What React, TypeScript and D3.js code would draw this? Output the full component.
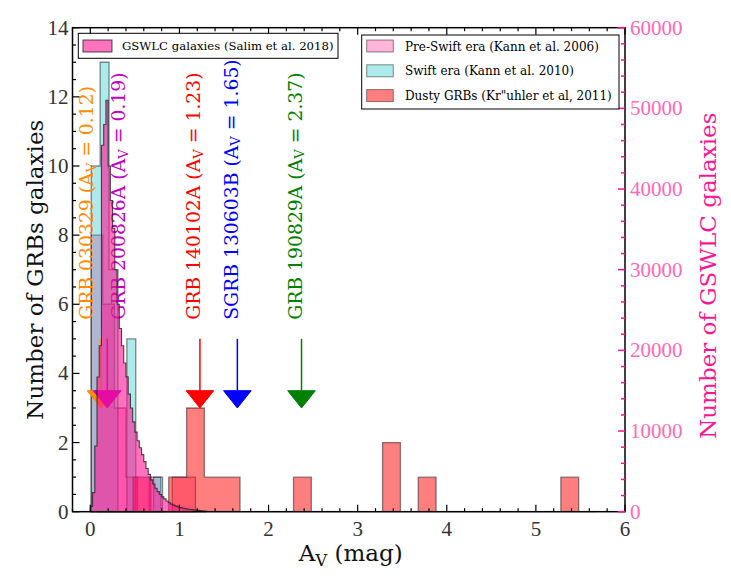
import * as d3 from "d3";

// ---- data ----
const xTickValues = [0, 1, 2, 3, 4, 5, 6];
const leftTickValues = [0, 2, 4, 6, 8, 10, 12, 14];
const rightTickValues = [0, 10000, 20000, 30000, 40000, 50000, 60000];

// Pre-Swift era (Kann et al. 2006)
const preSwiftEdges = [0.01, 0.14, 0.27, 0.4, 0.53, 0.66, 0.79, 0.92, 1.05, 1.18];
const preSwiftCounts = [8, 6, 3, 1, 0, 1, 0, 1, 1];

// Swift era (Kann et al. 2010)
const swiftEdges = [0.01, 0.11, 0.21, 0.31, 0.41, 0.51, 0.61, 0.71, 0.81];
const swiftCounts = [10, 13, 7, 0, 5, 0, 0, 1];

// Dusty GRBs (Kruhler et al. 2011)
const dustyEdges = [
  0.08, 0.28, 0.48, 0.68, 0.88, 1.08, 1.28, 1.48, 1.68, 1.88, 2.08, 2.28, 2.48, 2.68, 2.88,
  3.08, 3.28, 3.48, 3.68, 3.88, 4.08, 4.28, 4.48, 4.68, 4.88, 5.08, 5.28, 5.48, 5.68,
];
const dustyCounts = [0, 0, 1, 0, 1, 3, 1, 1, 0, 0, 0, 1, 0, 0, 0, 0, 2, 0, 1, 0, 0, 0, 0, 0, 0, 0, 1, 0];

// GSWLC galaxies (Salim et al. 2018), bins of 0.025 starting at 0
const gswlcStart = 0;
const gswlcBin = 0.025;
const gswlcCounts = [
  640, 2360, 8140, 16700, 20570, 45430, 48000, 51000, 42860, 38570, 35140, 30000, 25710,
  22710, 20570, 18430, 16710, 14570, 12860, 11140, 9860, 8790, 7930, 7070, 6210, 5360,
  4630, 3940, 3430, 2910, 2490, 2140, 1840, 1590, 1330, 1110, 940, 810, 690, 600, 510,
  450, 390, 340, 300, 260, 210, 190, 170, 130, 110, 90,
];

// individual bursts marked by arrows
const grbNames = ["GRB 030329", "GRB 200826A", "GRB 140102A", "SGRB 130603B", "GRB 190829A"];
const grbAv = [0.12, 0.19, 1.23, 1.65, 2.37];
const grbColors = ["darkorange", "#bf00bf", "red", "blue", "green"];

// ---- layout ----
const W = 731;
const H = 585;
const L = 72.5;
const R = 625;
const T = 27.7;
const B = 511.7;
const SERIF = "'DejaVu Serif', serif";
const NUM = "'Liberation Serif', serif";
const PINK = "#ff1493";

const x = d3.scaleLinear().domain([-0.2, 6]).range([L, R]);
const yL = d3.scaleLinear().domain([0, 14]).range([B, T]);
const yR = d3.scaleLinear().domain([0, 60000]).range([B, T]);

// label offsets from the arrow, in A_V units
const labelShift = [-0.163, 0.126, -0.073, -0.07, -0.07];

function Sub({ size, pre, post }: { size: number; pre: string; post: string }) {
  const d = size * 0.22;
  return (
    <>
      {pre}A
      <tspan dy={d} fontSize={size * 0.7}>
        V
      </tspan>
      <tspan dy={-d}>{post}</tspan>
    </>
  );
}

// matplotlib-like "stepfilled" histogram
function stepPath(edges: number[], counts: number[], y: d3.ScaleLinear<number, number>) {
  const pts = counts.map((c, i) => [edges[i], c] as [number, number]);
  pts.push([edges[counts.length], counts[counts.length - 1]]);
  return (
    d3
      .area<[number, number]>()
      .x((d) => x(d[0]))
      .y0(y(0))
      .y1((d) => y(d[1]))
      .curve(d3.curveStepAfter)(pts) ?? ""
  );
}

export default function App() {
  const xMinor = d3
    .range(-1, 31)
    .map((k) => k * 0.2)
    .filter((v) => Math.abs(v - Math.round(v)) > 1e-6);
  const leftMinor = d3.range(0, 14.01, 0.5).filter((v) => v % 2 !== 0);
  const rightMinor = d3.range(0, 60001, 2000).filter((v) => v % 10000 !== 0);

  const gswlcEdges = d3.range(gswlcCounts.length + 1).map((i) => gswlcStart + i * gswlcBin);

  const arrowTop = 5;
  const headLen = 0.5;
  const headTip = 3;
  const headW = 0.155;
  const labelSize = 18.8;

  return (
    <svg
      width={W}
      height={H}
      style={{ position: "absolute", left: 0, top: 0, background: "#fff" }}
      fontFamily={SERIF}
    >
      {/* histograms on the GRB axis */}
      <g stroke="#000" strokeOpacity={0.45} strokeWidth={1.3}>
        <path d={stepPath(preSwiftEdges, preSwiftCounts, yL)} fill="#ff69b4" fillOpacity={0.5} />
        <path d={stepPath(swiftEdges, swiftCounts, yL)} fill="#00bfbf" fillOpacity={0.32} />
        <path d={stepPath(dustyEdges, dustyCounts, yL)} fill="red" fillOpacity={0.5} />
      </g>

      {/* arrows and labels */}
      {grbAv.map((av, i) => {
        const cx = x(av);
        const hw = x(av + headW) - cx;
        return (
          <g key={grbNames[i]} fill={grbColors[i]} stroke={grbColors[i]}>
            <line x1={cx} x2={cx} y1={yL(arrowTop)} y2={yL(headTip + headLen)} strokeWidth={1.5} />
            <path
              d={`M${cx - hw},${yL(headTip + headLen)}L${cx + hw},${yL(headTip + headLen)}L${cx},${yL(headTip)}Z`}
              strokeWidth={1}
            />
          </g>
        );
      })}
      {grbAv.map((av, i) => (
        <text
          key={grbNames[i]}
          transform={`translate(${x(av + labelShift[i])},${yL(5.55)}) rotate(-90)`}
          fill={grbColors[i]}
          fontSize={labelSize}
          dominantBaseline="central"
        >
          <Sub size={labelSize} pre={`${grbNames[i]} (`} post={` = ${av})`} />
        </text>
      ))}

      {/* GSWLC on the twin axis, drawn on top */}
      <path
        d={stepPath(gswlcEdges, gswlcCounts, yR)}
        fill={PINK}
        fillOpacity={0.6}
        stroke="#222"
        strokeOpacity={0.8}
        strokeWidth={1.1}
      />

      {/* spines */}
      <rect x={L} y={T} width={R - L} height={B - T} fill="none" stroke="#000" strokeWidth={1.5} />

      {/* x ticks bottom and top, y ticks left */}
      <g stroke="#000" strokeWidth={1.2}>
        {xTickValues.map((v) => (
          <g key={v}>
            <line x1={x(v)} x2={x(v)} y1={B} y2={B - 7} />
            <line x1={x(v)} x2={x(v)} y1={T} y2={T + 7} />
          </g>
        ))}
        {xMinor.map((v) => (
          <g key={v}>
            <line x1={x(v)} x2={x(v)} y1={B} y2={B - 3.5} />
            <line x1={x(v)} x2={x(v)} y1={T} y2={T + 3.5} />
          </g>
        ))}
        {leftTickValues.map((v) => (
          <line key={v} x1={L} x2={L + 7} y1={yL(v)} y2={yL(v)} />
        ))}
        {leftMinor.map((v) => (
          <line key={v} x1={L} x2={L + 3.5} y1={yL(v)} y2={yL(v)} />
        ))}
      </g>
      <g stroke={PINK} strokeWidth={1.5}>
        {rightTickValues.map((v) => (
          <line key={v} x1={R} x2={R - 7} y1={yR(v)} y2={yR(v)} />
        ))}
        {rightMinor.map((v) => (
          <line key={v} x1={R} x2={R - 4} y1={yR(v)} y2={yR(v)} />
        ))}
      </g>

      {/* tick labels */}
      <g fontFamily={NUM} fontSize={21} fill="#333">
        {xTickValues.map((v) => (
          <text key={v} x={x(v)} y={B + 24} textAnchor="middle">
            {v}
          </text>
        ))}
        {leftTickValues.map((v) => (
          <text key={v} x={L - 4} y={yL(v)} textAnchor="end" dominantBaseline="central">
            {v}
          </text>
        ))}
      </g>
      <g fontFamily={NUM} fontSize={21} fill="#ff69b4">
        {rightTickValues.map((v) => (
          <text key={v} x={R + 5} y={yR(v)} dominantBaseline="central">
            {v}
          </text>
        ))}
      </g>

      {/* axis labels */}
      <text transform={`translate(35,${(T + B) / 2}) rotate(-90)`} textAnchor="middle" dominantBaseline="central" fontSize={23} fill="#111">
        Number of GRBs galaxies
      </text>
      <text transform={`translate(708,${(T + B) / 2 + 6}) rotate(-90)`} textAnchor="middle" dominantBaseline="central" fontSize={23} fill={PINK}>
        Number of GSWLC galaxies
      </text>
      <text x={(L + R) / 2 + 2} y={561} textAnchor="middle" fontSize={23} fill="#111">
        <Sub size={23} pre="" post=" (mag)" />
      </text>

      {/* legend for GSWLC */}
      <g fontSize={11.7}>
        <rect x={78.3} y={33.3} width={259.7} height={25} fill="#fff" stroke="#000" strokeWidth={1} />
        <rect x={83} y={40} width={29} height={12} fill={PINK} fillOpacity={0.6} stroke="#222" strokeOpacity={0.8} />
        <text x={122} y={50.3}>GSWLC galaxies (Salim et al. 2018)</text>
      </g>

      {/* legend for the GRB samples */}
      <g fontSize={12}>
        <rect x={361.7} y={35} width={257.3} height={74} fill="#fff" stroke="#000" strokeWidth={1} />
        {[
          { label: "Pre-Swift era (Kann et al. 2006)", fill: "#ff69b4", op: 0.5 },
          { label: "Swift era (Kann et al. 2010)", fill: "#00bfbf", op: 0.32 },
          { label: "Dusty GRBs (Kr\"uhler et al, 2011)", fill: "red", op: 0.5 },
        ].map((d, i) => (
          <g key={d.label}>
            <rect x={366.7} y={40 + i * 24.8} width={26.6} height={12} fill={d.fill} fillOpacity={d.op} stroke="#000" strokeOpacity={0.45} />
            <text x={405} y={50.5 + i * 24.8}>
              {d.label}
            </text>
          </g>
        ))}
      </g>
    </svg>
  );
}
